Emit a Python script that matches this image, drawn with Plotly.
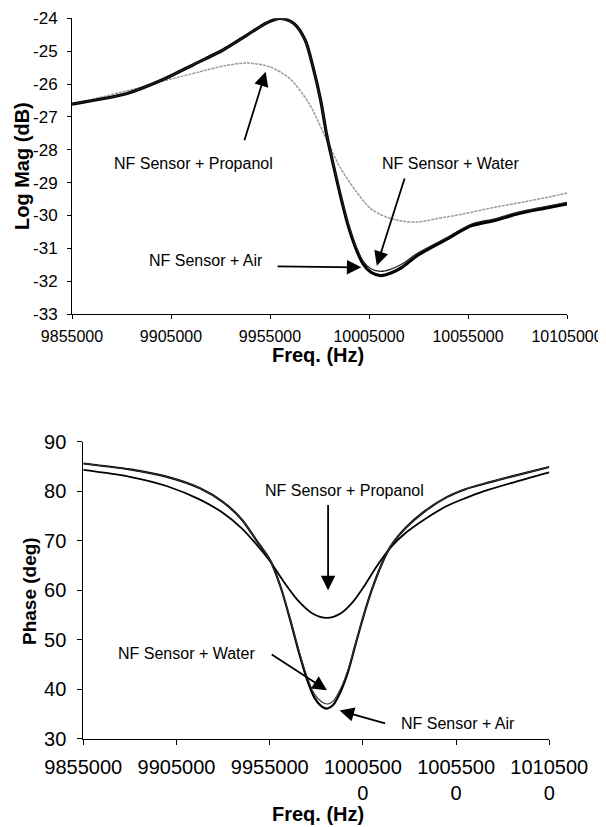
import plotly.graph_objects as go

# ---------------- data ----------------
# Top panel: Log magnitude (dB) vs frequency (Hz)
mag_air_f = [9855000, 9882780, 9900380, 9916030, 9931680, 9943400, 9953000, 9960040,
             9966890, 9972750, 9976660, 9980580, 9983510, 9986440, 9990360, 9994270,
             9998180, 10002090, 10006000, 10010890, 10015780, 10021640, 10029470,
             10043150, 10056860, 10068600, 10080300, 10092100, 10105000]
mag_air_db = [-26.61, -26.29, -25.88, -25.42, -24.95, -24.51, -24.15, -24.00,
              -24.15, -24.66, -25.47, -26.49, -27.51, -28.32, -29.34, -30.26,
              -30.97, -31.48, -31.73, -31.83, -31.76, -31.58, -31.22,
              -30.76, -30.31, -30.15, -29.95, -29.80, -29.65]
mag_water_db = [-26.61, -26.29, -25.88, -25.42, -24.95, -24.51, -24.15, -24.01,
                -24.16, -24.67, -25.47, -26.48, -27.49, -28.30, -29.30, -30.20,
                -30.90, -31.40, -31.62, -31.70, -31.64, -31.48, -31.15,
                -30.71, -30.26, -30.10, -29.90, -29.75, -29.60]
mag_prop_f = [9855000, 9880000, 9905000, 9920000, 9931680, 9943400, 9955150, 9964900,
              9974700, 9984460, 9990330, 9998150, 10005970, 10013790, 10021620,
              10029440, 10039220, 10052910, 10068560, 10082250, 10095940, 10105000]
mag_prop_db = [-26.61, -26.25, -25.85, -25.62, -25.45, -25.36, -25.48, -25.83,
               -26.59, -27.81, -28.53, -29.24, -29.80, -30.05, -30.17,
               -30.20, -30.10, -29.95, -29.75, -29.60, -29.44, -29.32]

# Bottom panel: Phase (deg) vs frequency (Hz)
ph_narrow_f = [9855000, 9880000, 9900000, 9917600, 9930000, 9940000, 9948000, 9955300,
               9961000, 9966000, 9971000, 9975000, 9979000, 9983000, 9986000, 9989000,
               9993000, 9997000, 10001000, 10005500, 10010000, 10015000, 10019800,
               10028000, 10038000, 10050000, 10060000, 10070000, 10085000, 10105000]
ph_air_deg = [85.6, 84.4, 82.9, 80.6, 77.8, 74.3, 70.0, 66.0,
              60.5, 54.0, 47.0, 42.0, 38.3, 36.5, 36.1, 36.8,
              39.5, 43.5, 49.0, 55.0, 60.3, 65.2, 68.8,
              72.6, 75.9, 78.8, 80.4, 81.5, 83.0, 84.9]
ph_water_deg = [85.6, 84.4, 82.9, 80.6, 77.8, 74.3, 70.0, 66.0,
                60.5, 54.2, 47.4, 42.6, 39.0, 37.4, 37.0, 37.6,
                40.1, 43.9, 49.2, 55.1, 60.3, 65.2, 68.8,
                72.6, 75.9, 78.8, 80.4, 81.5, 83.0, 84.9]
ph_prop_f = [9855000, 9880000, 9900000, 9917600, 9930000, 9940000, 9948000, 9955300,
             9962000, 9970000, 9978000, 9985700, 9993000, 10000000, 10006000, 10012000,
             10019800, 10028000, 10038000, 10050000, 10060000, 10070000, 10085000, 10105000]
ph_prop_deg = [84.3, 82.9, 81.0, 78.3, 75.6, 72.5, 69.2, 65.8,
               62.0, 58.0, 55.3, 54.4, 55.3, 57.8, 61.0, 64.6,
               68.6, 71.6, 74.3, 77.0, 78.6, 80.0, 81.7, 83.8]

# Tick values / labels
freq_ticks = [9855000, 9905000, 9955000, 10005000, 10055000, 10105000]
top_tick_text = ["9855000", "9905000", "9955000", "10005000", "10055000", "10105000"]
bot_tick_text = ["9855000", "9905000", "9955000", "1000500<br>0", "1005500<br>0", "1010500<br>0"]
mag_ticks = [-33, -32, -31, -30, -29, -28, -27, -26, -25, -24]
phase_ticks = [30, 40, 50, 60, 70, 80, 90]

# Annotation labels
lbl_prop = "NF Sensor + Propanol"
lbl_water = "NF Sensor + Water"
lbl_air = "NF Sensor + Air"

# ---------------- figure ----------------
# the page body has an 8px margin, so the figure is drawn 8px in from the window corner
OFF = 8
W, H = 606 - OFF, 827 - OFF
FONT = "Liberation Sans, Arial, sans-serif"

fig = go.Figure()

# top panel
fig.add_trace(go.Scatter(x=mag_prop_f, y=mag_prop_db, mode="lines", name=lbl_prop,
                         line=dict(color="#9a9a9a", width=1.5, dash="3px,1px", shape="spline", smoothing=0.8),
                         xaxis="x", yaxis="y"))
fig.add_trace(go.Scatter(x=mag_air_f, y=mag_air_db, mode="lines", name=lbl_air,
                         line=dict(color="black", width=3.2, shape="spline", smoothing=0.8),
                         xaxis="x", yaxis="y"))
fig.add_trace(go.Scatter(x=mag_air_f, y=mag_water_db, mode="lines", name=lbl_water,
                         line=dict(color="#222", width=1.2, shape="spline", smoothing=0.8),
                         xaxis="x", yaxis="y"))

# bottom panel
fig.add_trace(go.Scatter(x=ph_prop_f, y=ph_prop_deg, mode="lines", name=lbl_prop,
                         line=dict(color="black", width=1.8, shape="spline", smoothing=0.8),
                         xaxis="x2", yaxis="y2"))
fig.add_trace(go.Scatter(x=ph_narrow_f, y=ph_air_deg, mode="lines", name=lbl_air,
                         line=dict(color="black", width=2.2, shape="spline", smoothing=0.8),
                         xaxis="x2", yaxis="y2"))
fig.add_trace(go.Scatter(x=ph_narrow_f, y=ph_water_deg, mode="lines", name=lbl_water,
                         line=dict(color="#333", width=1.1, shape="spline", smoothing=0.8),
                         xaxis="x2", yaxis="y2"))

def px(x):
    return (x - OFF) / W

def py(y):
    return 1 - (y - OFF) / H

axis_common = dict(showgrid=False, zeroline=False, showline=True, linecolor="black",
                   linewidth=1, ticks="outside", tickcolor="black", tickwidth=1,
                   mirror=False, automargin=False)

fig.update_layout(
    template="none",
    width=W, height=H,
    margin=dict(l=0, r=0, t=0, b=0, pad=0),
    paper_bgcolor="white", plot_bgcolor="white",
    showlegend=False,
    font=dict(family=FONT, color="black"),
    xaxis=dict(domain=[px(72), px(567)], range=[9855000, 10105000], anchor="y",
               tickvals=freq_ticks, ticktext=top_tick_text, ticklen=4,
               tickfont=dict(size=16), ticklabelstandoff=4, **axis_common),
    yaxis=dict(domain=[py(314), py(18.3)], range=[-33, -24], anchor="x",
               tickvals=mag_ticks, ticktext=[str(v) for v in mag_ticks], ticklen=4,
               tickfont=dict(size=17), ticklabelstandoff=6, **axis_common),
    xaxis2=dict(domain=[px(83.3), px(549.3)], range=[9855000, 10105000], anchor="y2",
                tickvals=freq_ticks, ticktext=bot_tick_text, ticklen=5,
                tickfont=dict(size=20), ticklabelstandoff=5, **axis_common),
    yaxis2=dict(domain=[py(738.7), py(441.7)], range=[30, 90], anchor="x2",
                tickvals=phase_ticks, ticktext=[str(v) for v in phase_ticks], ticklen=5,
                tickfont=dict(size=20), ticklabelstandoff=7, **axis_common),
)

annotations = []
# axis titles
for text, x, y, ang, size in [
    ("<b>Log Mag (dB)</b>", 22, 166, -90, 20),
    ("<b>Freq. (Hz)</b>", 318, 355, 0, 20),
    ("<b>Phase (deg)</b>", 29, 591, -90, 19),
    ("<b>Freq. (Hz)</b>", 318, 814, 0, 20),
]:
    annotations.append(dict(text=text, x=px(x), y=py(y), xref="paper", yref="paper",
                            xanchor="center", yanchor="middle", showarrow=False,
                            textangle=ang, font=dict(size=size, family=FONT, color="black")))

# top panel labels + arrows
for text, tx, ty, hx, hy, sx, sy in [
    (lbl_prop, 9916600, -28.43, 9952800, -25.63, 9941850, -27.76),
    (lbl_water, 10046100, -28.43, 10008940, -31.53, 10023220, -28.83),
    (lbl_air, 9922480, -31.38, 10001110, -31.58, 9958080, -31.55),
]:
    annotations.append(dict(text=text, x=tx, y=ty, xref="x", yref="y", showarrow=False,
                            xanchor="center", yanchor="middle",
                            font=dict(size=16, family=FONT, color="black")))
    annotations.append(dict(text="", x=hx, y=hy, xref="x", yref="y", ax=sx, ay=sy,
                            axref="x", ayref="y", showarrow=True, arrowhead=2,
                            arrowsize=1.6, arrowwidth=1.8, arrowcolor="black"))

# bottom panel labels + arrows
for text, tx, ty, hx, hy, sx, sy in [
    (lbl_prop, 9995000, 80.2, 9986320, 60.0, 9986320, 77.5),
    (lbl_water, 9910200, 47.2, 9985700, 39.8, 9955300, 47.2),
    (lbl_air, 10056000, 33.0, 9992520, 35.7, 10017750, 33.0),
]:
    annotations.append(dict(text=text, x=tx, y=ty, xref="x2", yref="y2", showarrow=False,
                            xanchor="center", yanchor="middle",
                            font=dict(size=16, family=FONT, color="black")))
    annotations.append(dict(text="", x=hx, y=hy, xref="x2", yref="y2", ax=sx, ay=sy,
                            axref="x2", ayref="y2", showarrow=True, arrowhead=2,
                            arrowsize=1.6, arrowwidth=1.8, arrowcolor="black"))

fig.update_layout(annotations=annotations)

fig.write_html("out.html")
